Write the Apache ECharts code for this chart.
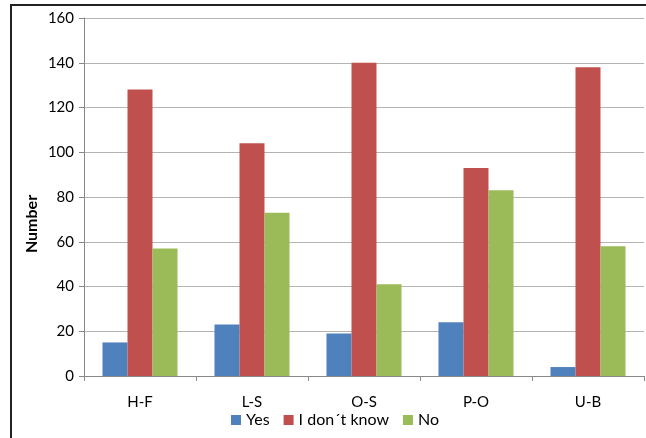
<!DOCTYPE html>
<html>
<head>
<meta charset="utf-8">
<script src="https://cdn.jsdelivr.net/npm/echarts@6/dist/echarts.min.js"></script>
<style>
  html, body { margin: 0; padding: 0; background: #fff; }
  #chart { width: 646px; height: 438px; }
</style>
</head>
<body>
<div id="chart"></div>
<script>
const categories = ['H-F', 'L-S', 'O-S', 'P-O', 'U-B']
const yesValues = [15, 23, 19, 24, 4]
const dontKnowValues = [128, 104, 140, 93, 138]
const noValues = [57, 73, 41, 83, 58]

const font = 'Lato, "Open Sans", sans-serif'

const chart = echarts.init(document.getElementById('chart'))

const barSeries = (name, data, color) => ({
  name,
  type: 'bar',
  data,
  barGap: '0%',
  barCategoryGap: '33%',
  itemStyle: { color },
})

chart.setOption({
  animation: false,
  grid: { left: 84, right: 2, top: 18, bottom: 62 },
  graphic: [
    {
      type: 'rect',
      shape: { x: 11, y: 5, width: 700, height: 500 },
      style: { fill: 'none', stroke: '#222', lineWidth: 2 },
      z: 100,
    },
    // axis title sits lower than the plot middle in the original
    {
      type: 'text',
      x: 32,
      y: 224,
      rotation: Math.PI / 2,
      style: {
        text: 'Number',
        font: 'bold 16px ' + font,
        fill: '#000',
        align: 'center',
        verticalAlign: 'middle',
      },
    },
  ],
  legend: {
    bottom: 5,
    left: 226,
    itemWidth: 10,
    itemHeight: 10,
    itemGap: 14,
    icon: 'rect',
    textStyle: { fontFamily: font, fontSize: 16, color: '#000' },
  },
  xAxis: {
    type: 'category',
    data: categories,
    axisLine: { lineStyle: { color: '#888' } },
    axisTick: { show: true, length: 5, lineStyle: { color: '#888' } },
    axisLabel: { color: '#000', fontFamily: font, fontSize: 15, margin: 19 },
  },
  yAxis: {
    type: 'value',
    min: 0,
    max: 160,
    interval: 20,
    axisLine: { show: true, lineStyle: { color: '#888' } },
    axisTick: { show: true, length: 5, lineStyle: { color: '#888' } },
    axisLabel: { color: '#000', fontFamily: font, fontSize: 15, margin: 10 },
    splitLine: { lineStyle: { color: '#b4b4b4' } },
  },
  series: [
    barSeries('Yes', yesValues, '#4f81bd'),
    barSeries('I don´t know', dontKnowValues, '#c0504d'),
    barSeries('No', noValues, '#9bbb59'),
  ],
})
</script>
</body>
</html>
